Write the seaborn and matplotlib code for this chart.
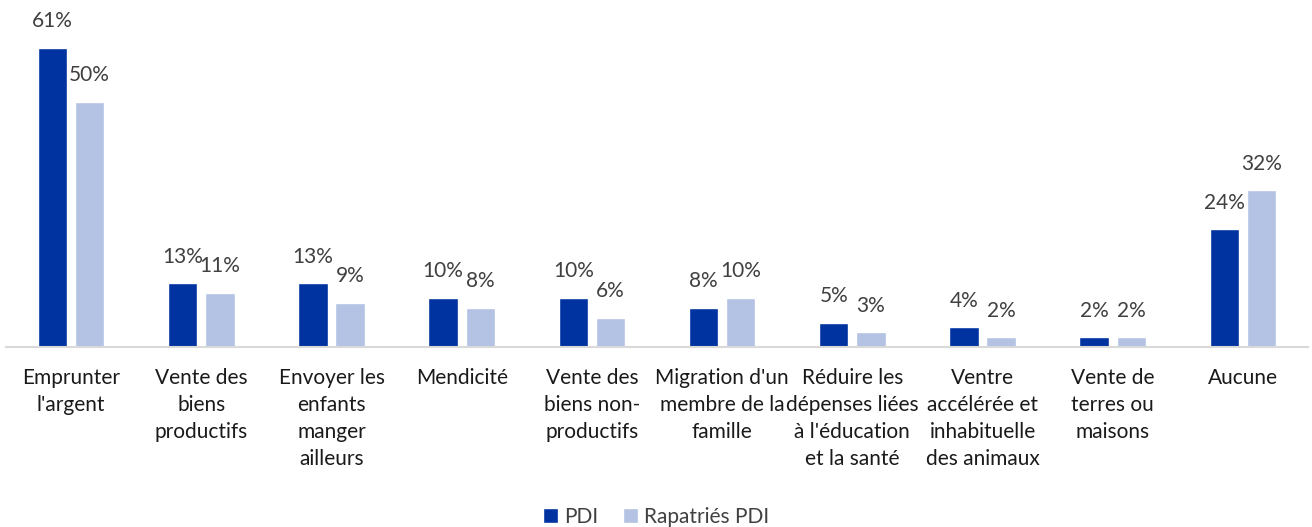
import matplotlib
matplotlib.use('Agg')
import matplotlib.pyplot as plt
import seaborn as sns
import pandas as pd

# ── Données ────────────────────────────────────────────────────────────────
categories = [
    "Emprunter\nl'argent",
    "Vente des\nbiens\nproductifs",
    "Envoyer les\nenfants\nmanger\nailleurs",
    "Mendicité",
    "Vente des\nbiens non-\nproductifs",
    "Migration d'un\nmembre de la\nfamille",
    "Réduire les\ndépenses liées\nà l'éducation\net la santé",
    "Ventre\naccélérée et\ninhabituelle\ndes animaux",
    "Vente de\nterres ou\nmaisons",
    "Aucune",
]
pdi        = [61, 13, 13, 10, 10, 8, 5, 4, 2, 24]
rapatries  = [50, 11, 9, 8, 6, 10, 3, 2, 2, 32]
groupes    = ["PDI", "Rapatriés PDI"]
couleurs   = ["#0033A0", "#B4C3E3"]

df = pd.DataFrame({
    "cat": categories * 2,
    "val": pdi + rapatries,
    "grp": [groupes[0]] * len(categories) + [groupes[1]] * len(categories),
})

sns.set_style("white")
plt.rcParams['font.family'] = ['Lato', 'DejaVu Sans']
txt = "#404040"

fig = plt.figure(figsize=(13.12, 5.27), dpi=100)
ax = fig.add_axes([6/1312, 1 - 347/527, 1302/1312, 343/527])

sns.barplot(data=df, x="cat", y="val", hue="grp", palette=couleurs,
            width=0.57, gap=0.21, ax=ax, legend=True, saturation=1)

for cont in ax.containers:
    ax.bar_label(cont, fmt='%d%%', padding=12, fontsize=15, color=txt)

ax.set_ylim(0, 70)
ax.set_xlim(-0.5, len(categories) - 0.5)
ax.set_yticks([])
ax.set_xlabel("")
ax.set_ylabel("")
for s in ["top", "right", "left"]:
    ax.spines[s].set_visible(False)
ax.spines["bottom"].set_color("#D9D9D9")
ax.spines["bottom"].set_linewidth(1.5)
ax.tick_params(axis='x', length=0, pad=15, labelsize=15, labelcolor="#1a1a1a")
for lab in ax.get_xticklabels():
    lab.set_verticalalignment('top')
    lab.set_linespacing(1.45)

handles, labels = ax.get_legend_handles_labels()
ax.get_legend().remove()
fig.legend(handles, labels, loc='lower center', bbox_to_anchor=(0.5, -0.035),
           ncol=2, frameon=False, fontsize=15, labelcolor=txt,
           handlelength=0.7, handleheight=0.7, handletextpad=0.3,
           columnspacing=1.2)

plt.savefig('out.png', dpi=100)
plt.close()
